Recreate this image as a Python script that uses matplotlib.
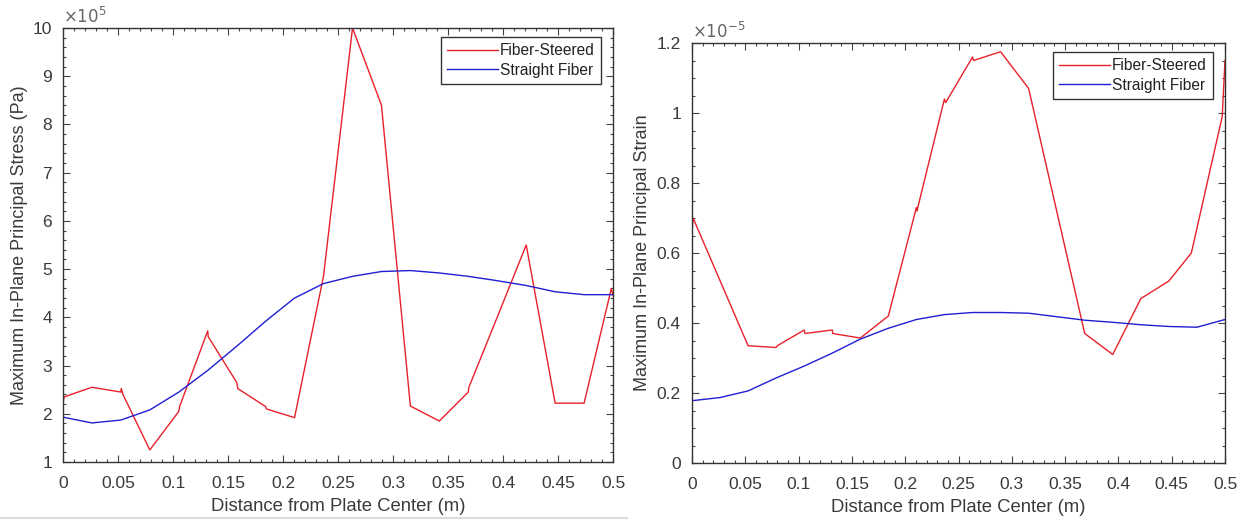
import matplotlib
matplotlib.use("Agg")
from matplotlib import pyplot as plt
from matplotlib.ticker import MultipleLocator
from matplotlib.lines import Line2D

plt.rcParams["font.family"] = ["Liberation Sans", "DejaVu Sans"]

# x positions (m) of the sample points
x_grid = [0.0, 0.0263, 0.0526, 0.0789, 0.1053, 0.1316, 0.1579, 0.1842, 0.2105, 0.2368,
          0.2632, 0.2895, 0.3158, 0.3421, 0.3684, 0.3947, 0.4211, 0.4474, 0.4737, 0.5]

# stress (x1e5 Pa)
stress_x = [0.0, 0.001, 0.0263, 0.0526, 0.053, 0.0545, 0.0789, 0.1053, 0.106, 0.1316, 0.132,
            0.1579, 0.159, 0.1842, 0.185, 0.2105, 0.2368, 0.2632, 0.2895, 0.3158, 0.3421,
            0.3684, 0.369, 0.3947, 0.4211, 0.4474, 0.4737, 0.4985, 0.5]
stress_steered = [2.2, 2.35, 2.55, 2.45, 2.52, 2.4, 1.25, 2.05, 2.15, 3.72, 3.6,
                  2.65, 2.52, 2.15, 2.1, 1.92, 4.85, 10.0, 8.4, 2.16, 1.85,
                  2.45, 2.55, 4.0, 5.5, 2.22, 2.22, 4.6, 4.45]
stress_straight = [1.93, 1.81, 1.87, 2.08, 2.45, 2.9, 3.4, 3.92, 4.4, 4.7,
                   4.85, 4.95, 4.97, 4.92, 4.85, 4.76, 4.66, 4.53, 4.47, 4.47]

# strain (x1e-5)
strain_x = [0.0, 0.001, 0.0526, 0.0789, 0.08, 0.1053, 0.106, 0.1316, 0.132, 0.1579,
            0.1842, 0.185, 0.2105, 0.211, 0.2368, 0.238, 0.2632, 0.264, 0.2895, 0.3158,
            0.3421, 0.3684, 0.3947, 0.4211, 0.4474, 0.4684, 0.4974, 0.5]
strain_steered = [0.66, 0.70, 0.335, 0.33, 0.335, 0.38, 0.37, 0.38, 0.37, 0.357,
                  0.42, 0.43, 0.73, 0.72, 1.04, 1.03, 1.16, 1.15, 1.175, 1.07,
                  0.72, 0.37, 0.31, 0.47, 0.52, 0.60, 0.99, 1.15]
strain_straight = [0.178, 0.187, 0.206, 0.243, 0.277, 0.314, 0.354, 0.385, 0.41, 0.424,
                   0.43, 0.43, 0.428, 0.418, 0.408, 0.402, 0.395, 0.39, 0.388, 0.41]

red = "#e8202a"
blue = "#1e1ed2"
txt = "#3a3a3a"

fig = plt.figure(figsize=(12.47, 5.21), dpi=100)
ax1 = fig.add_axes([63 / 1247, 1 - 462 / 521, 550 / 1247, 434 / 521])
ax2 = fig.add_axes([692 / 1247, 1 - 463 / 521, 533 / 1247, 420 / 521])


def style(ax):
    ax.tick_params(which="both", direction="in", top=True, right=True, colors="#444444",
                   labelcolor=txt, labelsize=12.5, width=0.8)
    ax.tick_params(which="major", length=5, pad=8)
    ax.tick_params(axis="x", which="major", pad=10)
    ax.tick_params(which="minor", length=2.5)
    for s in ax.spines.values():
        s.set_color("#333333")
        s.set_linewidth(1.0)
    ax.set_xlim(0, 0.5)
    ax.xaxis.set_minor_locator(MultipleLocator(0.01))
    ax.set_xticks([0, 0.05, 0.1, 0.15, 0.2, 0.25, 0.3, 0.35, 0.4, 0.45, 0.5])
    ax.set_xticklabels(["0", "0.05", "0.1", "0.15", "0.2", "0.25", "0.3", "0.35", "0.4", "0.45", "0.5"])
    ax.set_xlabel("Distance from Plate Center (m)", fontsize=13.3, color=txt, labelpad=5)


ax1.plot(stress_x, stress_steered, color=red, lw=1.0, label="Fiber-Steered")
ax1.plot(x_grid, stress_straight, color=blue, lw=1.0, label="Straight Fiber")
style(ax1)
ax1.set_ylim(1, 10)
ax1.yaxis.set_major_locator(MultipleLocator(1))
ax1.yaxis.set_minor_locator(MultipleLocator(0.2))
ax1.set_ylabel("Maximum In-Plane Principal Stress (Pa)", fontsize=13, color=txt, labelpad=3)
ax1.text(0.0, 1.005, r"$\times10^5$", transform=ax1.transAxes, fontsize=12, color="#666666",
         ha="left", va="bottom", math_fontfamily="dejavusans")

ax2.plot(strain_x, strain_steered, color=red, lw=1.0, label="Fiber-Steered")
ax2.plot(x_grid, strain_straight, color=blue, lw=1.0, label="Straight Fiber")
style(ax2)
ax2.set_ylim(0, 1.2)
ax2.yaxis.set_minor_locator(MultipleLocator(0.05))
ax2.set_yticks([0, 0.2, 0.4, 0.6, 0.8, 1.0, 1.2])
ax2.set_yticklabels(["0", "0.2", "0.4", "0.6", "0.8", "1", "1.2"])
ax2.set_ylabel("Maximum In-Plane Principal Strain", fontsize=13, color=txt, labelpad=4)
ax2.text(0.0, 1.005, r"$\times10^{-5}$", transform=ax2.transAxes, fontsize=12, color="#666666",
         ha="left", va="bottom", math_fontfamily="dejavusans")

for ax, anchor in [(ax1, (601 - 63) / 550), (ax2, (1213 - 692) / 533)]:
    top = (462 - 37) / 434 if ax is ax1 else (463 - 52) / 420
    leg = ax.legend(loc="upper right", bbox_to_anchor=(anchor, top), borderaxespad=0,
                    fancybox=False, framealpha=1, edgecolor="#333333", fontsize=11.2,
                    handlelength=3.3, handletextpad=0.1, borderpad=0.4, labelspacing=0.3)
    leg.get_frame().set_linewidth(1.0)
    for t in leg.get_texts():
        t.set_color("#222222")

# border line of the left screenshot
fig.add_artist(Line2D([0, 627 / 1247], [1 - 518 / 521] * 2, color="#dddddd", lw=1.5))

fig.savefig("out.png", dpi=100)
